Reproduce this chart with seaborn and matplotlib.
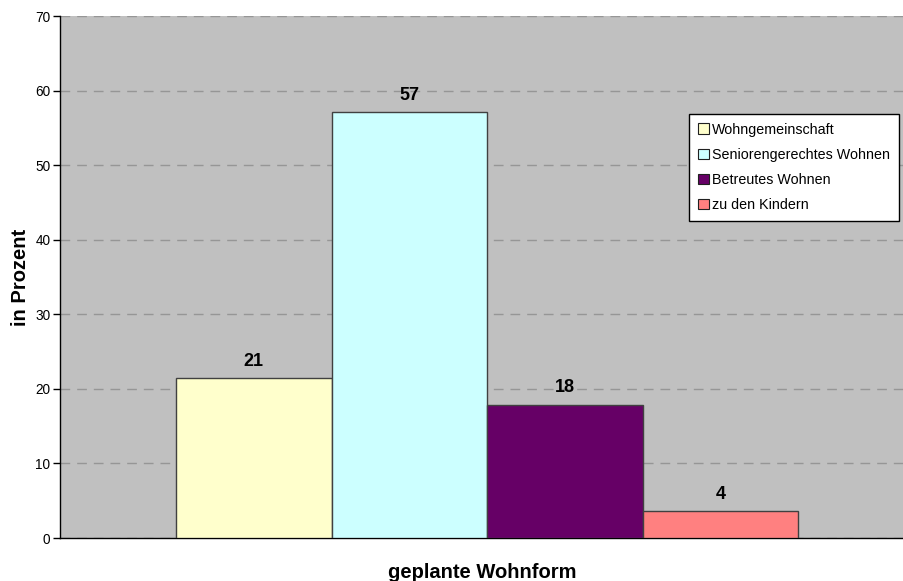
import matplotlib
matplotlib.use("Agg")
import matplotlib.pyplot as plt
import seaborn as sns
import pandas as pd

# Survey result: planned form of living (percent of respondents)
wohnformen = ["Wohngemeinschaft", "Seniorengerechtes Wohnen", "Betreutes Wohnen", "zu den Kindern"]
prozent = [21.43, 57.14, 17.86, 3.57]
farben = ["#FFFFCC", "#CCFFFF", "#660066", "#FF8080"]
y_ticks = [0, 10, 20, 30, 40, 50, 60, 70]

df = pd.DataFrame({
    "gruppe": ["alle"] * len(wohnformen),
    "wohnform": wohnformen,
    "prozent": prozent,
})

sns.set_theme(style="white")
plt.rcParams["font.family"] = ["Liberation Sans", "DejaVu Sans"]
plt.rcParams["text.color"] = "black"
plt.rcParams["axes.labelcolor"] = "black"
plt.rcParams["xtick.color"] = "black"
plt.rcParams["ytick.color"] = "black"

fig = plt.figure(figsize=(9.04, 5.81), dpi=100)
ax = fig.add_axes([60 / 904, 43 / 581, 844 / 904, 522 / 581])
ax.set_facecolor("#C0C0C0")

sns.barplot(
    data=df, x="gruppe", y="prozent", hue="wohnform",
    hue_order=wohnformen, palette=farben, saturation=1, width=0.737,
    errorbar=None, edgecolor="#404040", linewidth=1.0, ax=ax, zorder=3,
)

# value labels above the bars
for cont in ax.containers:
    ax.bar_label(cont, fmt="%.0f", padding=6, fontsize=13, fontweight="bold", color="black")

ax.set_ylim(0, 70)
ax.set_xlim(-0.506, 0.494)
ax.set_yticks(y_ticks)
ax.set_yticklabels([str(t) for t in y_ticks], fontsize=9.8, color="black")
ax.set_xticks([])
ax.yaxis.grid(True, linestyle=(0, (7, 5)), color="#969696", linewidth=1.0, zorder=0)
ax.set_axisbelow(True)

for side in ["top", "right"]:
    ax.spines[side].set_visible(False)
for side in ["left", "bottom"]:
    ax.spines[side].set_visible(True)
    ax.spines[side].set_color("black")
    ax.spines[side].set_linewidth(1.0)

ax.tick_params(axis="y", which="both", left=True, length=5, width=1, color="black", pad=2)

ax.set_xlabel("geplante Wohnform", fontsize=14.5, fontweight="bold", labelpad=18, color="black")
ax.set_ylabel("in Prozent", fontsize=14.5, fontweight="bold", labelpad=4, color="black")

leg = ax.legend(
    loc="upper right", bbox_to_anchor=(0.994, 0.812), borderaxespad=0,
    fontsize=10.3, frameon=True, fancybox=False, framealpha=1,
    edgecolor="black", facecolor="white", handlelength=0.75, handleheight=0.75,
    handletextpad=0.25, labelspacing=0.78, borderpad=0.6, title=None,
)
leg.get_frame().set_linewidth(1.0)
for t in leg.get_texts():
    t.set_color("black")
for h in leg.legend_handles:
    h.set_edgecolor("#202020")
    h.set_linewidth(0.8)

fig.savefig("out.png", dpi=100)
